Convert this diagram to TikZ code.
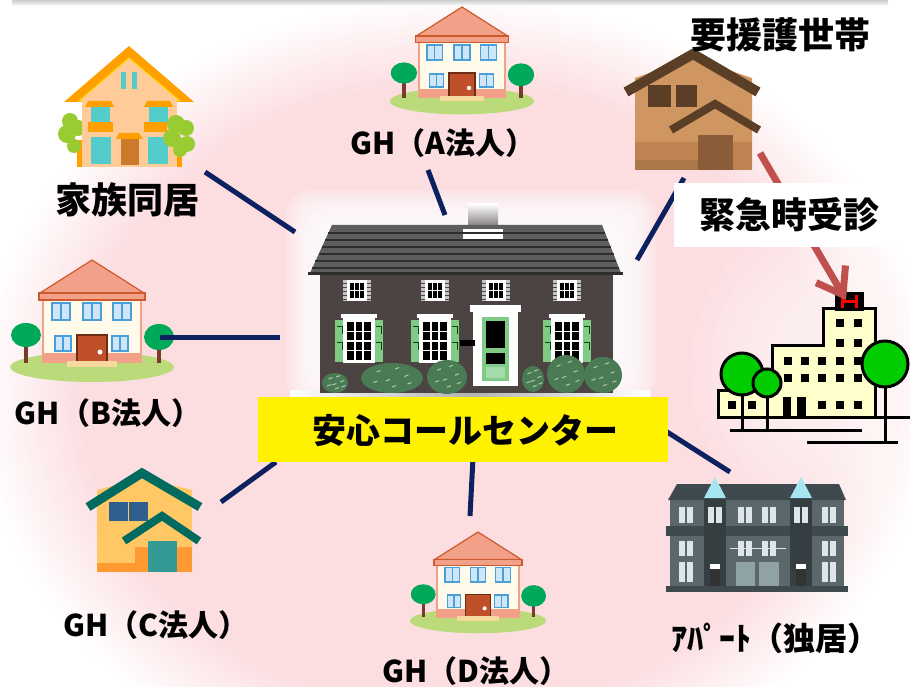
\documentclass[tikz,border=0pt]{standalone}
\usepackage{fontspec}
\setmainfont{Noto Sans CJK JP}
\usetikzlibrary{arrows.meta}

\definecolor{pinkbg}{HTML}{FCDEE1}
\definecolor{navy}{HTML}{0D2160}
\definecolor{arrowred}{HTML}{C0504D}
% group-home house
\definecolor{ghroof}{HTML}{F2A088}
\definecolor{ghroofline}{HTML}{CC5A2E}
\definecolor{ghcream}{HTML}{FFFAEA}
\definecolor{ghsalmon}{HTML}{F2A088}
\definecolor{ghwin}{HTML}{CDE6FA}
\definecolor{ghwinframe}{HTML}{4A9FD8}
\definecolor{ghdoor}{HTML}{C0502A}
\definecolor{ghdoorline}{HTML}{6B2E14}
\definecolor{ghgrass}{HTML}{BBDA7A}
\definecolor{ghtree}{HTML}{00A859}
\definecolor{ghtrunk}{HTML}{7A3B2A}
\definecolor{ghstep}{HTML}{F7D9A0}
% family house
\definecolor{famorange}{HTML}{FFA000}
\definecolor{fampeach}{HTML}{FFCC99}
\definecolor{famteal}{HTML}{55CCCC}
\definecolor{famdoor}{HTML}{CC7A29}
\definecolor{famtree}{HTML}{99CC33}
% brown house
\definecolor{brbody}{HTML}{CF9662}
\definecolor{brlow}{HTML}{BE8350}
\definecolor{brroof}{HTML}{5A3E26}
\definecolor{brdoor}{HTML}{8A5C3A}
% yellow house
\definecolor{ylbody}{HTML}{FFC864}
\definecolor{ylroof}{HTML}{006B5E}
\definecolor{ylwin}{HTML}{2F5F8F}
\definecolor{yldoor}{HTML}{339A96}
\definecolor{ylband}{HTML}{FF9A33}
% call centre building
\definecolor{ccwall}{HTML}{4B4442}
\definecolor{ccroof}{HTML}{5E5E5E}
\definecolor{ccroofline}{HTML}{2E2E2E}
\definecolor{ccshutter}{HTML}{C4C4C4}
\definecolor{ccgreen}{HTML}{7FCB86}
\definecolor{ccbush}{HTML}{4A7B55}
\definecolor{ccspeck}{HTML}{A9CDAE}
% apartment
\definecolor{apbody}{HTML}{5B676B}
\definecolor{apdark}{HTML}{3E4A4E}
\definecolor{apwin}{HTML}{DCE6E8}
\definecolor{apspire}{HTML}{A6E6F2}
\definecolor{apglass}{HTML}{8FA3A6}
% hospital
\definecolor{hospcream}{HTML}{FFFFCC}
\definecolor{hosptree}{HTML}{00CC00}

% pink glow: the path's bounding box edge sits at 25bp
\pgfdeclareradialshading{bgglow}{\pgfpoint{0bp}{0bp}}{%
  color(0bp)=(pinkbg); color(19.5bp)=(pinkbg); color(25bp)=(white); color(50bp)=(white)}

\tikzset{
  link/.style={navy, line width=5pt},
  lbl/.style={font=\bfseries\fontsize{30}{30}\selectfont, inner sep=0pt},
  biglbl/.style={font=\bfseries\fontsize{36}{36}\selectfont, inner sep=0pt},
  ghhouse/.pic={
    \fill[ghgrass] (0,107) ellipse [x radius=82pt, y radius=15pt];
    \fill[ghtrunk] (-68,80) rectangle (-64,103);
    \fill[ghtree] (-66,75) ellipse [x radius=15pt, y radius=12pt];
    \fill[ghtrunk] (65,82) rectangle (69,103);
    \fill[ghtree] (67,77) ellipse [x radius=15pt, y radius=13pt];
    \filldraw[fill=ghcream, draw=ghsalmon, line width=2pt] (-49,38) rectangle (49,102);
    \fill[ghsalmon] (-49,93) rectangle (49,103);
    \filldraw[fill=ghroof, draw=ghroofline, line width=1.2pt, line join=round] (-52,33) -- (0,0) -- (52,33) -- cycle;
    \filldraw[fill=ghroof, draw=ghroofline, line width=1.2pt] (-53,33) rectangle (53,40);
    \foreach \wx in {-31,0,30}{
      \filldraw[fill=ghwin, draw=ghwinframe, line width=1.5pt] ({\wx-9},43) rectangle ({\wx+9},60);
      \draw[ghwinframe, line width=1.2pt] (\wx,43) -- (\wx,60);
    }
    \foreach \wx in {-29,28}{
      \filldraw[fill=ghwin, draw=ghwinframe, line width=1.5pt] ({\wx-8},76) rectangle ({\wx+8},91);
      \draw[ghwinframe, line width=1.2pt] (\wx,76) -- (\wx,91);
    }
    \filldraw[fill=ghdoor, draw=ghdoorline, line width=1.5pt] (-15,75) rectangle (15,102);
    \fill[white] (8,92) circle [radius=2.5pt];
    \fill[ghstep] (-25,101) rectangle (25,107);
  },
  upwin/.pic={
    \fill[ccshutter] (-14,-10) rectangle (14,11);
    \foreach \yy in {-7,-3,1,5,9}
      \draw[gray!55!black, line width=0.6pt] (-14,\yy) -- (-10,\yy) (10,\yy) -- (14,\yy);
    \fill[white] (-10,-10) rectangle (10,11);
    \fill[black] (-7,-7) rectangle (7,8);
    \draw[white, line width=1.5pt] (-2.3,-7) -- (-2.3,8) (2.3,-7) -- (2.3,8) (-7,0.5) -- (7,0.5);
  },
  lowwin/.pic={
    \fill[ccgreen] (-24,-20) rectangle (-15,22);
    \fill[ccgreen] (15,-20) rectangle (24,22);
    \draw[black!70!green, line width=0.8pt] (-22,-14) -- (-17,-14) -- (-17,-6) (-22,2) -- (-17,2) -- (-17,10)
         (17,-14) -- (22,-14) -- (22,-6) (17,2) -- (22,2) -- (22,10);
    \fill[white] (-16,-22) rectangle (16,23);
    \fill[white] (-18,-26) rectangle (18,-22);
    \fill[black] (-12,-18) rectangle (12,20);
    \draw[white, line width=1.6pt] (-4,-18) -- (-4,20) (4,-18) -- (4,20)
         (-12,-8.5) -- (12,-8.5) (-12,1) -- (12,1) (-12,10.5) -- (12,10.5);
  }
}

\begin{document}
\begin{tikzpicture}[x=1pt, y=-1pt, line cap=butt]
\useasboundingbox (0,0) rectangle (910,687);

% ---------- background ----------
\fill[white] (0,0) rectangle (910,687);
\shade[shading=bgglow] (455,395) ellipse [x radius=478pt, y radius=400pt];
\shade[top color=gray!40, bottom color=white] (12,0) rectangle (888,6);

% soft white halo behind the call centre
\foreach \i in {0,...,9}
  \fill[white, opacity=0.17, rounded corners=24pt] ({286+\i*3},{190+\i*3}) rectangle ({656-\i*3},{404-\i*2});
% soft white halo round the hospital
\foreach \i in {0,...,9}
  \fill[white, opacity=0.09] (840,370) ellipse [x radius={150-\i*10}, y radius={160-\i*10}];

% ---------- connectors to the centre ----------
\coordinate (famEnd) at (205,172);  \coordinate (hubFam) at (295,232);
\coordinate (aEnd)   at (428,170);  \coordinate (hubA)   at (445,215);
\coordinate (yogoEnd) at (684,178); \coordinate (hubYogo) at (637,260);
\coordinate (bEnd)   at (160,337);  \coordinate (hubB)   at (280,337);
\coordinate (cEnd)   at (221,502);  \coordinate (hubC)   at (276,462);
\coordinate (dEnd)   at (470,516);  \coordinate (hubD)   at (473,458);
\coordinate (apEnd)  at (730,472);  \coordinate (hubAp)  at (664,430);
\draw[link] (famEnd) -- (hubFam);
\draw[link] (aEnd) -- (hubA);
\draw[link] (hubYogo) -- (yogoEnd);
\draw[link] (hubC) -- (cEnd);
\draw[link] (hubD) -- (dEnd);
\draw[link] (hubAp) -- (apEnd);

% ---------- call centre building ----------
\shade[left color=white, right color=white, middle color=gray!60] (290,390) rectangle (650,396);
\fill[ccwall] (320,270) rectangle (613,393);
\shade[top color=white, bottom color=ccwall!80] (468,204) rectangle (498,230);
\fill[ccroof] (332,225) -- (602,225) -- (621,273) -- (310,273) -- cycle;
\fill[white] (463,229) rectangle (503,239);
\foreach \ry in {233,240,247,254,261,268}
  \draw[ccroofline, line width=1.3pt] ({332-(\ry-225)*0.46},\ry) -- ({602+(\ry-225)*0.4},\ry);
\draw[ccroofline, line width=3pt] (308,273) -- (623,273);
\foreach \wx in {357,435,496,567}
  \pic at (\wx,290) {upwin};
\foreach \wx in {359,435,567}
  \pic at (\wx,340) {lowwin};
% front door
\fill[white] (470,305) rectangle (521,312);
\fill[white] (473,312) rectangle (518,386);
\fill[ccgreen] (482,317) rectangle (509,381);
\fill[black] (486,321) rectangle (505,348);
\fill[black] (486,353) rectangle (505,364);
\fill[ccgreen!70] (486,367) rectangle (505,378);
\fill[black] (460,340) rectangle (475,346);
% shrubs
\foreach \bx/\by/\brx/\bry in {335/383/13/10, 392/378/31/15, 447/377/20/17, 533/379/11/13, 566/374/19/19, 603/375/19/18}{
  \fill[ccbush] (\bx,\by) ellipse [x radius=\brx, y radius=\bry];
  \foreach \sx/\sy in {-0.5/-0.4, 0.1/-0.6, 0.4/-0.1, -0.2/0.2, 0.5/0.4, -0.6/0.3, 0.0/0.6}
    \draw[ccspeck, line width=1pt] ({\bx+\sx*\brx},{\by+\sy*\bry}) -- ({\bx+\sx*\brx+4},{\by+\sy*\bry-1.5});
}

% ---------- call centre caption ----------
\node[fill=yellow, minimum width=410pt, minimum height=65pt, inner sep=0pt] (hub) at (463,429.5) {};
\node[font=\bfseries\fontsize{34}{34}\selectfont, inner sep=0pt] (hubText) at (465,431) {安心コールセンター};

% ---------- family house ----------
\fill[famorange] (77,140) rectangle (82,167);
\foreach \cx/\cy/\cr in {70/121/8, 67/134/9, 74/146/7, 78/128/8}
  \fill[famtree] (\cx,\cy) circle [radius=\cr];
\fill[fampeach] (82,100) rectangle (177,167);
\fill[famorange] (129,46) -- (194,102) -- (64,102) -- cycle;
\filldraw[fill=fampeach, draw=yellow!80!orange, line width=1pt] (129,58) -- (180,101) -- (79,101) -- cycle;
\fill[fampeach] (82,100) rectangle (177,108);
\fill[famteal] (121,72) rectangle (126,89);
\fill[famteal] (132,72) rectangle (137,89);
\fill[famorange] (88,101) -- (111,101) -- (114,107) -- (85,107) -- cycle;
\fill[famorange] (147,101) -- (170,101) -- (173,107) -- (144,107) -- cycle;
\fill[famteal] (91,107) rectangle (110,122);
\fill[famteal] (149,107) rectangle (168,122);
\fill[famorange] (88,122) rectangle (113,132);
\fill[famorange] (144,122) rectangle (167,132);
\fill[famteal] (91,137) rectangle (111,164);
\fill[famteal] (148,137) rectangle (168,164);
\fill[famorange] (119,133) -- (139,133) -- (143,139) -- (116,139) -- cycle;
\fill[famdoor] (121,139) rectangle (139,165);
\fill[famorange] (177,147) rectangle (182,167);
\foreach \cx/\cy/\cr in {176/124/9, 186/128/8, 172/138/9, 187/144/8, 180/150/7}
  \fill[famtree] (\cx,\cy) circle [radius=\cr];
\node[biglbl] (famLabel) at (127,200) {家族同居};

% ---------- group homes ----------
\pic[scale=0.88] (ghA) at (462,7) {ghhouse};
\node[lbl] (labelA) at (443,143) {GH（A法人）};
\pic (ghB) at (92,260) {ghhouse};
\draw[link] (bEnd) -- (hubB);
\node[lbl] (labelB) at (108,413) {GH（B法人）};
\pic[scale=0.83] (ghD) at (478,532) {ghhouse};
\node[lbl] (labelD) at (476,671) {GH（D法人）};

% yellow group home
\fill[ylbody] (97,490) -- (142,478) -- (192,490) -- (192,572) -- (97,572) -- cycle;
\fill[ylband] (97,563) rectangle (148,572);
\fill[ylband] (135,547) rectangle (148,572);
\fill[ylband] (177,547) rectangle (192,572);
\fill[ylwin] (109,502) rectangle (148,521);
\draw[ylbody, line width=1pt] (128.5,502) -- (128.5,521);
\draw[ylroof, line width=9pt, line join=miter] (88,507) -- (142,473) -- (200,507);
\fill[ylbody] (130,536) -- (162,517) -- (192,536) -- (192,547) -- (130,547) -- cycle;
\fill[yldoor] (148,541) rectangle (177,572);
\draw[ylroof, line width=8pt, line join=miter] (124,541) -- (162,516) -- (199,541);
\node[lbl] (labelC) at (156,625) {GH（C法人）};

% ---------- brown house (household needing support) ----------
\fill[brbody] (635,78) -- (693,58) -- (752,78) -- (752,170) -- (635,170) -- cycle;
\fill[brlow] (635,142) rectangle (698,170);
\fill[brlow!90!black] (635,160) rectangle (698,170);
\fill[brlow] (733,142) rectangle (752,170);
\fill[brroof] (648,85) rectangle (671,107);
\fill[brroof] (676,85) rectangle (697,107);
\draw[brroof, line width=10pt] (626,92) -- (693,54) -- (758,92);
\fill[brdoor] (698,135) rectangle (733,170);
\draw[brroof, line width=8pt] (671,130) -- (715,104) -- (759,130);
\node[biglbl] (yogoLabel) at (780,35) {要援護世帯};
\coordinate (yogoHouse) at (760,153);

% ---------- hospital ----------
\begin{scope}[line width=3pt]
  \filldraw[fill=hospcream] (718,417) -- (718,390) -- (772,390) -- (772,345) -- (823,345)
       -- (823,308) -- (875,308) -- (875,417) -- cycle;
  \draw (875,417) -- (910,417);
  \filldraw[fill=black] (836,293) rectangle (862,309);
\end{scope}
\draw[red, line width=3pt] (842,295) -- (842,308) (856,295) -- (856,308) (842,301.5) -- (856,301.5);
\coordinate (hospital) at (846,300);
\foreach \hx/\hy in {840/323, 858/323, 840/343, 858/343,
                     788/361, 805/361, 822/361, 840/361, 858/361,
                     788/378, 805/378, 822/378, 840/378, 858/378,
                     732/405, 752/405, 822/405, 840/405, 858/405}
  \fill[black] ({\hx-4},{\hy-4}) rectangle ({\hx+4},{\hy+4});
\fill[black] (783,397) rectangle (791,417);
\fill[black] (797,397) rectangle (806,417);
\begin{scope}[line width=3pt]
  \draw (742,395) -- (742,430);
  \draw (767,398) -- (767,430);
  \draw (885,388) -- (885,442);
  \draw (730,430) -- (862,430);
  \draw (807,442) -- (898,442);
  \filldraw[fill=hosptree] (742,374) circle [radius=21];
  \filldraw[fill=hosptree] (767,383) circle [radius=14];
  \filldraw[fill=hosptree] (885,364) circle [radius=23];
\end{scope}

% ---------- emergency visit arrow ----------
\draw[arrowred, line width=7pt, -{Straight Barb[length=24pt, width=34pt]}] (yogoHouse) -- (hospital);
\node[fill=white, minimum width=236pt, minimum height=64pt, inner sep=0pt] (emBox) at (792,215) {};
\node[biglbl] (emText) at (789,215) {緊急時受診};

% ---------- apartment ----------
\fill[apbody] (670,498) rectangle (844,588);
\fill[apdark] (677,484) -- (839,484) -- (846,500) -- (668,500) -- cycle;
\fill[apdark] (666,526) rectangle (848,536);
\fill[apdark!85!black] (704,496) rectangle (726,590);
\fill[apdark!85!black] (790,496) rectangle (812,590);
\fill[apspire] (704,498) -- (715,477) -- (726,498) -- cycle;
\fill[apspire] (790,498) -- (801,477) -- (812,498) -- cycle;
\foreach \wx in {686,715,745,769,801,829}{
  \fill[apwin] ({\wx-7},507) rectangle ({\wx-1},523);
  \fill[apwin] ({\wx+1},507) rectangle ({\wx+7},523);
}
\foreach \wx in {686,745,769,829}{
  \fill[apwin] ({\wx-7},541) rectangle ({\wx-1},556);
  \fill[apwin] ({\wx+1},541) rectangle ({\wx+7},556);
}
\draw[apwin, line width=0.8pt] (730,548) -- (786,548);
\foreach \wx in {686,829}{
  \fill[apwin] ({\wx-7},562) rectangle ({\wx-1},582);
  \fill[apwin] ({\wx+1},562) rectangle ({\wx+7},582);
}
\foreach \wx in {715,801}{
  \fill[black!80] ({\wx-5},564) rectangle ({\wx+5},588);
  \fill[white] ({\wx-5},564) rectangle ({\wx+5},569);
}
\fill[apglass] (736,562) rectangle (755,587);
\fill[apglass] (759,562) rectangle (779,587);
\fill[apdark] (666,586) rectangle (848,592);
\node[font=\bfseries\fontsize{32}{32}\selectfont, inner sep=0pt] (labelAp) at (775,638) {ｱﾊﾟｰﾄ（独居）};

\end{tikzpicture}
\end{document}
